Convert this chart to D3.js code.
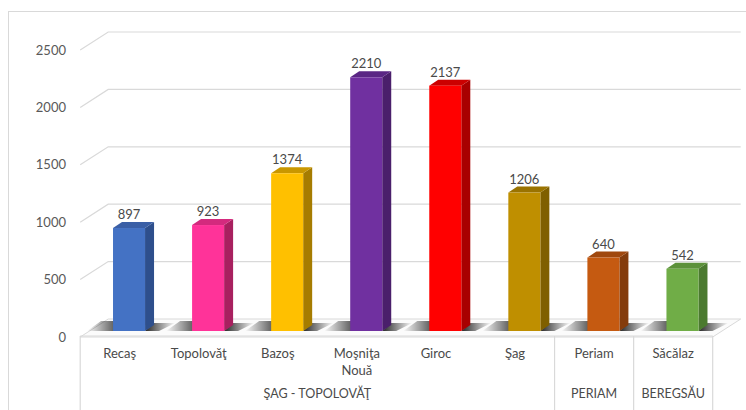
<!DOCTYPE html>
<html>
<head>
<meta charset="utf-8">
<script src="https://cdn.jsdelivr.net/npm/d3@7"></script>
<style>
  html, body { margin: 0; padding: 0; background: #fff; }
  svg { display: block; font-family: Lato, "Noto Sans", sans-serif; }
</style>
</head>
<body>
<svg id="chart" width="746" height="410"></svg>
<script>
// Population by locality, grouped by administrative area
const categories = ["Recaş", "Topolovăţ", "Bazoş", "Moşniţa Nouă", "Giroc", "Şag", "Periam", "Săcălaz"];
const values = [897, 923, 1374, 2210, 2137, 1206, 640, 542];
const groupNames = ["ŞAG - TOPOLOVĂŢ", "PERIAM", "BEREGSĂU"];
const groupSizes = [6, 1, 1];
const yTicks = [0, 500, 1000, 1500, 2000, 2500];
const frontColors = ["#4472C4", "#FF3399", "#FFC000", "#7030A0", "#FF0000", "#BF8F00", "#C55A11", "#70AD47"];
const sideColors  = ["#2E4F8C", "#A8205F", "#A67C00", "#4A1F6B", "#A80000", "#7F5F00", "#843C0C", "#4B7A2F"];
const topColors   = ["#3A5FA6", "#D42A7E", "#C99700", "#5A2684", "#CC0000", "#9A7300", "#A0480E", "#5C913A"];

const svg = d3.select("#chart");

// depth offsets: back wall and front edge relative to the bar plane
const BACK = { dx: 18.7, dy: -12 };
const FRONT = { dx: -9.3, dy: 6 };
const BAR_D = { dx: 9, dy: -6 };

const x = d3.scaleBand().domain(categories).range([89.5, 722])
  .paddingInner(0.595).paddingOuter(0.2975);
const y = d3.scaleLinear().domain([0, 2500]).range([331, 44]);

const x0 = x.range()[0], x1 = x.range()[1];

// chart frame
svg.append("rect").attr("x", 8.5).attr("y", 11.5).attr("width", 800).attr("height", 420)
  .attr("fill", "none").attr("stroke", "#d9d9d9").attr("stroke-width", 1);

// floor
const floorY = y(0);
svg.append("path")
  .attr("d", `M${x0 + FRONT.dx},${floorY + FRONT.dy} L${x0 + BACK.dx},${floorY + BACK.dy} L${x1 + BACK.dx},${floorY + BACK.dy} L${x1 + FRONT.dx},${floorY + FRONT.dy} Z`)
  .attr("fill", "#fbfbfb").attr("stroke", "#d9d9d9").attr("stroke-width", 1);

// gridlines: back wall + side wall diagonal
const grid = svg.append("g").attr("stroke", "#d9d9d9").attr("stroke-width", 1.2).attr("fill", "none");
yTicks.filter(t => t > 0).forEach(t => {
  const yb = y(t) + BACK.dy, yf = y(t) + FRONT.dy;
  grid.append("path").attr("d", `M${x0 + FRONT.dx},${yf} L${x0 + BACK.dx},${yb} L${x1 + BACK.dx},${yb}`);
});

// y axis labels
svg.append("g").selectAll("text").data(yTicks).join("text")
  .attr("x", 66).attr("y", d => y(d) + FRONT.dy)
  .attr("dy", "0.35em").attr("text-anchor", "end")
  .attr("font-size", 13).attr("fill", "#595959")
  .text(d => d);

// floor shadows on both sides of each bar
const defs = svg.append("defs");
const sgL = defs.append("linearGradient").attr("id", "shadowL").attr("x1", "0").attr("x2", "1");
sgL.append("stop").attr("offset", "0").attr("stop-color", "#000").attr("stop-opacity", 0);
sgL.append("stop").attr("offset", "0.75").attr("stop-color", "#000").attr("stop-opacity", 0.6);
sgL.append("stop").attr("offset", "1").attr("stop-color", "#000").attr("stop-opacity", 0.85);
const sgR = defs.append("linearGradient").attr("id", "shadowR").attr("x1", "0").attr("x2", "1");
sgR.append("stop").attr("offset", "0").attr("stop-color", "#000").attr("stop-opacity", 0.85);
sgR.append("stop").attr("offset", "0.35").attr("stop-color", "#000").attr("stop-opacity", 0.55);
sgR.append("stop").attr("offset", "1").attr("stop-color", "#000").attr("stop-opacity", 0);

const shadows = svg.append("g");
shadows.selectAll("path.l").data(categories).join("path").attr("class", "l")
  .attr("d", d => {
    const l = x(d);
    const fy = floorY, by = floorY - 10;
    return `M${l - 26},${fy} L${l + 1},${fy} L${l + 9},${by} L${l - 12},${by} Z`;
  })
  .attr("fill", "url(#shadowL)");
shadows.selectAll("path.r").data(categories).join("path").attr("class", "r")
  .attr("d", d => {
    const r = x(d) + x.bandwidth();
    const fy = floorY, by = floorY - 8;
    return `M${r},${fy} L${r + 14},${fy} L${r + 30},${by} L${r + 9},${by} Z`;
  })
  .attr("fill", "url(#shadowR)");

// bars
const bars = svg.append("g").selectAll("g").data(categories).join("g");
bars.each(function (d, i) {
  const g = d3.select(this);
  const l = x(d), w = x.bandwidth(), t = y(values[i]), b = y(0);
  // side face
  g.append("path")
    .attr("d", `M${l + w},${t} L${l + w + BAR_D.dx},${t + BAR_D.dy} L${l + w + BAR_D.dx},${b + BAR_D.dy} L${l + w},${b} Z`)
    .attr("fill", sideColors[i]);
  // top face
  g.append("path")
    .attr("d", `M${l},${t} L${l + BAR_D.dx},${t + BAR_D.dy} L${l + w + BAR_D.dx},${t + BAR_D.dy} L${l + w},${t} Z`)
    .attr("fill", topColors[i]);
  // front face
  g.append("rect").attr("x", l).attr("y", t).attr("width", w).attr("height", b - t)
    .attr("fill", frontColors[i]);
});

// value labels
svg.append("g").selectAll("text").data(categories).join("text")
  .attr("x", d => x(d) + x.bandwidth() / 2)
  .attr("y", (d, i) => y(values[i]) - 9)
  .attr("text-anchor", "middle").attr("font-size", 13).attr("fill", "#4a4a4a")
  .text((d, i) => values[i]);

// category table below the floor
const tY = floorY + FRONT.dy - 1;
const tBottom = 420;
const fx0 = x0 + FRONT.dx, fx1 = x1 + FRONT.dx;
const table = svg.append("g").attr("stroke", "#d9d9d9").attr("stroke-width", 1.2);
table.append("line").attr("x1", fx0).attr("x2", fx1).attr("y1", tY).attr("y2", tY);
table.append("line").attr("x1", fx0).attr("x2", fx0).attr("y1", tY).attr("y2", tBottom);

const step = x.step();
let start = 0;
const groupSpans = groupSizes.map(n => { const s = start; start += n; return [s, start]; });
groupSpans.forEach(([s, e]) => {
  const gx = x0 + e * step + FRONT.dx;
  table.append("line").attr("x1", gx).attr("x2", gx).attr("y1", tY).attr("y2", tBottom);
});

// category labels
const catLabels = svg.append("g").attr("font-size", 13).attr("fill", "#4a4a4a").attr("text-anchor", "middle");
categories.forEach(c => {
  const cx = x(c) + x.bandwidth() / 2 + FRONT.dx;
  const words = c === "Moşniţa Nouă" ? ["Moşniţa", "Nouă"] : [c];
  const t = catLabels.append("text").attr("x", cx).attr("y", 358);
  words.forEach((wd, k) => t.append("tspan").attr("x", cx).attr("dy", k === 0 ? 0 : 17).text(wd));
});

// group labels
svg.append("g").attr("font-size", 12.5).attr("fill", "#4a4a4a").attr("text-anchor", "middle")
  .selectAll("text").data(groupNames).join("text")
  .attr("x", (d, i) => x0 + (groupSpans[i][0] + groupSpans[i][1]) / 2 * step + FRONT.dx)
  .attr("y", 398)
  .text(d => d);
</script>
</body>
</html>
